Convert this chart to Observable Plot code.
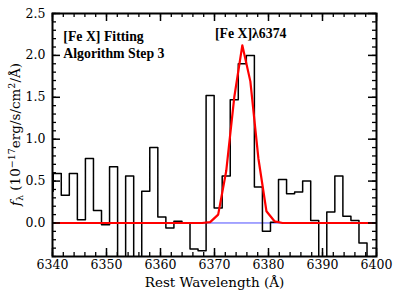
<!DOCTYPE html>
<html><head><meta charset="utf-8">
<script src="https://cdn.jsdelivr.net/npm/d3@7"></script>
<script src="https://cdn.jsdelivr.net/npm/@observablehq/plot@0.6"></script>
<style>body{margin:0;background:#fff}</style>
</head><body><div id="chart"></div>
<script>
const wavelength = [6339.39, 6340.88, 6342.37, 6343.86, 6345.35, 6346.84, 6348.33, 6349.82, 6351.31, 6352.80,
  6354.29, 6355.78, 6357.27, 6358.76, 6360.25, 6361.74, 6363.23, 6364.72, 6366.21, 6367.70,
  6369.19, 6370.68, 6372.17, 6373.66, 6375.15, 6376.64, 6378.13, 6379.62, 6381.11, 6382.60,
  6384.09, 6385.58, 6387.07, 6388.56, 6390.05, 6391.54, 6393.03, 6394.52, 6396.01, 6397.50,
  6398.99, 6400.48];
const flux = [0.38, 0.59, 0.33, 0.59, 0.04, 0.77, 0.15, -0.02, 0.67, -0.9,
  0.56, -0.9, 0.38, 0.90, 0.07, -0.06, 0.02, 0.00, -0.31, -0.33,
  1.52, 0.18, 0.56, 1.47, 1.90, 2.00, 0.43, -0.10, 0.01, 0.52,
  0.35, 0.37, 0.50, 0.03, -0.9, 0.13, 0.56, 0.08, 0.03, -0.24,
  -0.9, -0.9];
const fit = [0, 0, 0, 0, 0, 0, 0, 0, 0, 0,
  0, 0, 0, 0, 0, 0, 0, 0, 0, 0,
  0.01, 0.10, 0.62, 1.50, 2.12, 1.69, 0.77, 0.14, 0.02, 0,
  0, 0, 0, 0, 0, 0, 0, 0, 0, 0,
  0, 0];
const xMajor = [6340, 6350, 6360, 6370, 6380, 6390, 6400];
const xMinor = d3.range(6340, 6401, 2);
const yMajor = [0, 0.5, 1.0, 1.5, 2.0, 2.5];
const yMinor = d3.range(-4, 26).map(d => d / 10);
const noteLeft = ["[Fe X] Fitting", "Algorithm Step 3"];
const noteLine = "[Fe X]λ6374";

const data = wavelength.map((w, i) => ({w, f: flux[i], fit: fit[i]}));

const W = 399, H = 297, mL = 52, mR = 23, mT = 13, mB = 41;
const fw = W - mL - mR, fh = H - mT - mB;
const SERIF = "'DejaVu Serif', serif";
const NOTE = "'Liberation Serif', serif";

const chart = Plot.plot({
  width: W, height: H,
  marginLeft: mL, marginRight: mR, marginTop: mT, marginBottom: mB,
  style: {background: "#fff", color: "black"},
  x: {domain: [6340, 6400]},
  y: {domain: [-0.4, 2.5]},
  marks: [
    Plot.ruleY([0], {stroke: "#4d4dff", strokeWidth: 1}),
    Plot.line(data, {x: "w", y: "f", curve: "step", stroke: "black", strokeWidth: 1.5, clip: true}),
    Plot.line(data, {x: "w", y: "fit", stroke: "#ff0000", strokeWidth: 2.2, clip: true}),
    Plot.ruleX(xMajor, {insetTop: fh - 8, strokeWidth: 1.5}),
    Plot.ruleX(xMajor, {insetBottom: fh - 8, strokeWidth: 1.5}),
    Plot.ruleX(xMinor, {insetTop: fh - 4, strokeWidth: 1.3}),
    Plot.ruleX(xMinor, {insetBottom: fh - 4, strokeWidth: 1.3}),
    Plot.ruleY(yMajor, {insetRight: fw - 8, strokeWidth: 1.5}),
    Plot.ruleY(yMajor, {insetLeft: fw - 8, strokeWidth: 1.5}),
    Plot.ruleY(yMinor, {insetRight: fw - 4, strokeWidth: 1.3}),
    Plot.ruleY(yMinor, {insetLeft: fw - 4, strokeWidth: 1.3}),
    Plot.frame({stroke: "black", strokeWidth: 2}),
    Plot.axisX(xMajor, {anchor: "bottom", tickSize: 0, tickPadding: 4, fontSize: 12.5, label: null, tickFormat: d => String(d)}),
    Plot.axisY(yMajor, {anchor: "left", tickSize: 0, tickPadding: 7, fontSize: 12.5, label: null, tickFormat: d3.format(".1f")}),
    Plot.text(["Rest Wavelength (Å)"], {frameAnchor: "bottom", dy: 30, fontSize: 13.5, fill: "black"}),
    Plot.text([noteLeft.join("\n")], {x: 6342.0, y: 2.32, textAnchor: "start", lineAnchor: "top", lineHeight: 1.25, fontSize: 13.8, fontWeight: "bold", fill: "black"}),
    Plot.text([noteLine], {x: 6376.7, y: 2.21, lineAnchor: "bottom", fontSize: 13.8, fontWeight: "bold", fill: "black"})
  ]
});

const svg = d3.select(chart);
svg.selectAll("text").style("font-family", SERIF);
svg.selectAll("text").filter(function() {
  const s = this.textContent;
  return s.includes("[Fe X]") || s.includes("Algorithm");
}).style("font-family", NOTE);

const t = svg.append("text")
  .attr("transform", `translate(20,${mT + fh / 2}) rotate(-90)`)
  .attr("text-anchor", "middle")
  .style("font-family", SERIF)
  .attr("font-size", 13.5)
  .attr("fill", "black");
t.append("tspan").attr("font-style", "italic").text("f");
t.append("tspan").attr("font-size", 9.5).attr("dy", 3).text("λ");
t.append("tspan").attr("dy", -3).text(" (10");
t.append("tspan").attr("font-size", 9.5).attr("dy", -5).text("−17");
t.append("tspan").attr("dy", 5).text("erg/s/cm");
t.append("tspan").attr("font-size", 9.5).attr("dy", -5).text("2");
t.append("tspan").attr("dy", 5).text("/Å)");

document.getElementById("chart").appendChild(chart);
</script>
</body></html>
